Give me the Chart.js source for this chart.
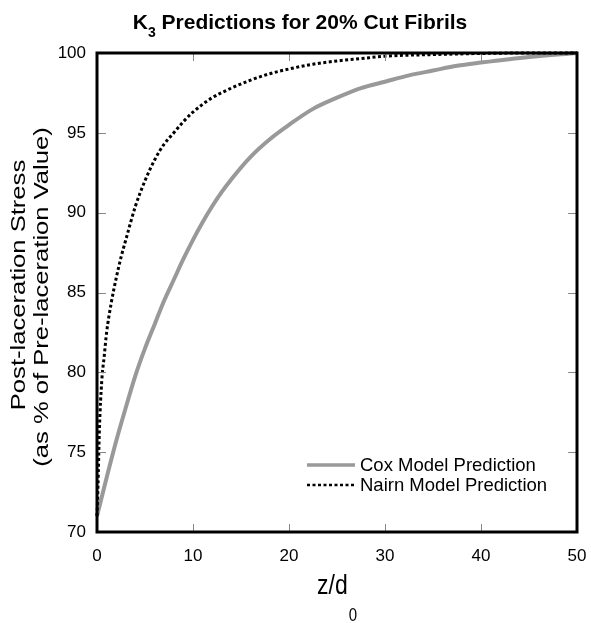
<!DOCTYPE html>
<html>
<head>
<meta charset="utf-8">
<script src="https://cdn.jsdelivr.net/npm/chart.js@4.4.1/dist/chart.umd.min.js"></script>
<style>
  html, body { margin: 0; padding: 0; background: #fff; }
  #wrap { width: 591px; height: 623px; }
</style>
</head>
<body>
<div id="wrap"><canvas id="c" width="591" height="623"></canvas></div>
<script>
// Normalised distance from the cut end, z/d0
const coxZ = [0, 1, 2, 3, 4, 5, 6, 7, 8, 9, 10, 11, 12, 13, 14, 16, 18, 20, 22.5, 25, 27.5, 30, 32.5, 35, 37.5, 40, 45, 50];
// Cox shear-lag prediction (% of pre-laceration stress)
const coxStress = [71, 73.4, 75.7, 77.8, 79.8, 81.5, 83.0, 84.5, 85.8, 87.1, 88.3, 89.4, 90.4, 91.3, 92.1, 93.5, 94.6, 95.5, 96.5, 97.2, 97.8, 98.2, 98.6, 98.9, 99.2, 99.4, 99.75, 100];

const nairnZ = [0, 0.1, 0.25, 0.5, 0.75, 1, 1.5, 2, 2.5, 3, 4, 5, 6, 7, 8, 9, 10, 12, 14, 16, 18, 20, 22.5, 25, 27.5, 30, 35, 40, 45, 50];
// Nairn model prediction (% of pre-laceration stress)
const nairnStress = [71, 72.8, 76.4, 79.5, 81.0, 82.5, 84.4, 85.9, 87.2, 88.3, 90.4, 92.0, 93.3, 94.3, 95.0, 95.7, 96.3, 97.2, 97.8, 98.3, 98.7, 99.0, 99.3, 99.5, 99.65, 99.8, 99.9, 99.97, 100, 100];

const xTicks = [0, 10, 20, 30, 40, 50];
const yTicks = [70, 75, 80, 85, 90, 95, 100];

const FONT = '"Liberation Sans", Arial, Helvetica, sans-serif';

function pts(xs, ys) { return xs.map((x, i) => ({ x: x, y: ys[i] })); }

// text drawn with a stretch factor along one direction
function stretchedText(ctx, text, x, y, sx, sy) {
  ctx.save();
  ctx.translate(x, y);
  ctx.scale(sx, sy);
  ctx.fillText(text, 0, 0);
  ctx.restore();
}

// Frame, inward tick marks, titles with subscripts and the in-plot legend
const decor = {
  id: 'decor',
  afterDatasetsDraw(chart) {
    const ctx = chart.ctx;
    const a = chart.chartArea;
    const xs = chart.scales.x, ys = chart.scales.y;
    ctx.save();
    // inward ticks on all four sides
    ctx.strokeStyle = '#888';
    ctx.lineWidth = 1;
    ctx.beginPath();
    xTicks.forEach(v => {
      const px = Math.round(xs.getPixelForValue(v)) + 0.5;
      ctx.moveTo(px, a.bottom); ctx.lineTo(px, a.bottom - 8);
      ctx.moveTo(px, a.top); ctx.lineTo(px, a.top + 8);
    });
    yTicks.forEach(v => {
      const py = Math.round(ys.getPixelForValue(v)) + 0.5;
      ctx.moveTo(a.left, py); ctx.lineTo(a.left + 9, py);
      ctx.moveTo(a.right, py); ctx.lineTo(a.right - 9, py);
    });
    ctx.stroke();
    // frame
    ctx.strokeStyle = '#000';
    ctx.lineWidth = 3;
    ctx.strokeRect(a.left, a.top, a.right - a.left, a.bottom - a.top);

    // legend
    const ds = chart.data.datasets;
    ctx.font = '18.5px ' + FONT;
    ctx.textBaseline = 'middle';
    ctx.textAlign = 'left';
    const legY = [465, 485];
    ds.forEach((d, i) => {
      ctx.beginPath();
      ctx.strokeStyle = d.borderColor;
      ctx.lineWidth = i === 0 ? 3.5 : 2.5;
      ctx.setLineDash(d.borderDash || []);
      ctx.moveTo(307, legY[i]); ctx.lineTo(355, legY[i]);
      ctx.stroke();
      ctx.setLineDash([]);
      ctx.fillStyle = '#000';
      ctx.fillText(d.label, 360, legY[i] + 1);
    });

    // chart title with subscript
    ctx.fillStyle = '#000';
    ctx.textBaseline = 'alphabetic';
    const tMain = 'bold 21px ' + FONT, tSub = 'bold 14px ' + FONT;
    ctx.font = tMain; const wK = ctx.measureText('K').width;
    ctx.font = tSub; const w3 = ctx.measureText('3').width;
    ctx.font = tMain; const wRest = ctx.measureText(' Predictions for 20% Cut Fibrils').width;
    let tx = 300 - (wK + w3 + wRest) / 2;
    ctx.font = tMain; ctx.fillText('K', tx, 29); tx += wK;
    ctx.font = tSub; ctx.fillText('3', tx, 37); tx += w3;
    ctx.font = tMain; ctx.fillText(' Predictions for 20% Cut Fibrils', tx, 29);

    // x-axis title z/d0 (tall lettering)
    ctx.font = '23px ' + FONT;
    stretchedText(ctx, 'z/d', 317, 594, 1, 1.2);
    const wz = ctx.measureText('z/d').width;
    ctx.font = '15px ' + FONT;
    stretchedText(ctx, '0', 318 + wz, 621, 1, 1.2);

    // y-axis title, two lines, long lettering along the axis
    ctx.font = '20px ' + FONT;
    ctx.textAlign = 'center';
    ctx.save();
    ctx.translate(24.5, 285);
    ctx.rotate(-Math.PI / 2);
    ctx.scale(1.28, 1);
    ctx.fillText('Post-laceration Stress', 0, 0);
    ctx.restore();
    ctx.save();
    ctx.translate(48, 297);
    ctx.rotate(-Math.PI / 2);
    ctx.scale(1.28, 1);
    ctx.fillText('(as % of Pre-laceration Value)', 0, 0);
    ctx.restore();
    ctx.restore();
  }
};

new Chart(document.getElementById('c'), {
  type: 'line',
  data: {
    datasets: [
      {
        label: 'Cox Model Prediction',
        data: pts(coxZ, coxStress),
        borderColor: '#999999',
        borderWidth: 4,
        pointRadius: 0,
        cubicInterpolationMode: 'monotone',
        clip: 4,
        order: 2
      },
      {
        label: 'Nairn Model Prediction',
        data: pts(nairnZ, nairnStress),
        borderColor: '#000000',
        borderWidth: 3,
        borderDash: [3, 2.5],
        pointRadius: 0,
        cubicInterpolationMode: 'monotone',
        clip: 4,
        order: 1
      }
    ]
  },
  options: {
    responsive: false,
    devicePixelRatio: 1,
    animation: false,
    layout: { padding: { left: 0, top: 53, right: 14, bottom: 0 } },
    plugins: { legend: { display: false }, tooltip: { enabled: false }, title: { display: false } },
    scales: {
      x: {
        type: 'linear', min: 0, max: 50,
        afterBuildTicks: s => { s.ticks = xTicks.map(v => ({ value: v })); },
        afterFit: s => { s.height = 91; s.paddingLeft = 0; s.paddingRight = 0; },
        grid: { display: false, drawTicks: false },
        border: { display: false },
        ticks: { color: '#000', font: { family: FONT, size: 17 }, padding: 14, maxRotation: 0 }
      },
      y: {
        type: 'linear', min: 70, max: 100,
        afterBuildTicks: s => { s.ticks = yTicks.map(v => ({ value: v })); },
        afterFit: s => { s.width = 97; s.paddingTop = 0; s.paddingBottom = 0; },
        grid: { display: false, drawTicks: false },
        border: { display: false },
        ticks: { color: '#000', font: { family: FONT, size: 17 }, padding: 11 }
      }
    }
  },
  plugins: [decor]
});
</script>
</body>
</html>
